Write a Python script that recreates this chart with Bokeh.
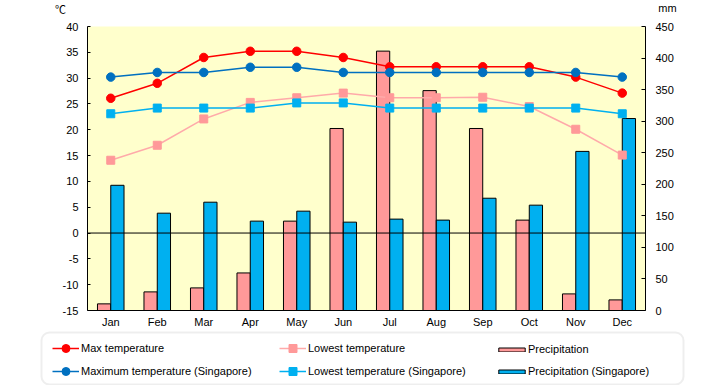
from bokeh.plotting import figure
from bokeh.layouts import column
from bokeh.models import (FactorRange, Range1d, LinearAxis, FixedTicker, Span,
                          Legend, LegendItem, Label, BoxAnnotation)
from bokeh.transform import dodge
from bokeh.embed import file_html
from bokeh.resources import INLINE

months = ["Jan", "Feb", "Mar", "Apr", "May", "Jun", "Jul", "Aug", "Sep", "Oct", "Nov", "Dec"]
max_temp = [26.1, 29.0, 34.0, 35.2, 35.2, 34.0, 32.2, 32.2, 32.2, 32.2, 30.2, 27.1]
low_temp = [14.1, 17.0, 22.1, 25.3, 26.2, 27.1, 26.2, 26.2, 26.3, 24.5, 20.1, 15.1]
precip = [10.5, 29.5, 35.8, 59.5, 141.6, 288.4, 411.0, 348.4, 288.4, 143.2, 26.3, 16.8]
sg_max_temp = [30.2, 31.1, 31.1, 32.1, 32.1, 31.1, 31.1, 31.1, 31.1, 31.1, 31.1, 30.2]
sg_low_temp = [23.1, 24.2, 24.2, 24.2, 25.2, 25.2, 24.2, 24.2, 24.2, 24.2, 24.2, 23.1]
sg_precip = [198.4, 154.2, 171.6, 141.6, 157.4, 140.0, 144.8, 143.2, 177.9, 166.9, 252.1, 304.2]

temp_ticks = [-15, -10, -5, 0, 5, 10, 15, 20, 25, 30, 35, 40]
mm_ticks = [0, 50, 100, 150, 200, 250, 300, 350, 400, 450]

FONT = "Liberation Sans"
FS = "11px"

C_MAX = "#FF0000"
C_LOW = "#FF9999"
C_LOW_LINE = "#FFAAAA"
C_SGMAX = "#0070C0"
C_SGLOW = "#00B0F0"

data = dict(month=months, max_temp=max_temp, low_temp=low_temp, precip=precip,
            sg_max_temp=sg_max_temp, sg_low_temp=sg_low_temp, sg_precip=sg_precip)


def no_align(fig):
    try:
        fig.frame_align = False
    except Exception:
        pass


# ---------- top strip with unit labels ----------
top = figure(width=720, height=18, x_range=Range1d(0, 720), y_range=Range1d(0, 18),
             x_axis_type=None, y_axis_type=None, toolbar_location=None, tools="",
             output_backend="svg", min_border=0, outline_line_color=None,
             background_fill_color="white", border_fill_color="white")
no_align(top)
top.add_layout(Label(x=60, y=10, x_units="screen", y_units="screen", text="℃",
                     text_align="center", text_baseline="middle", text_font="Noto Sans CJK JP",
                     text_font_size="11px", text_color="black"))
top.add_layout(Label(x=667, y=11, x_units="screen", y_units="screen", text="mm",
                     text_align="center", text_baseline="middle", text_font=FONT,
                     text_font_size=FS, text_color="black"))

# ---------- main chart ----------
p = figure(width=720, height=312, x_range=FactorRange(factors=months, range_padding=0),
           y_range=Range1d(-15, 40), output_backend="svg", toolbar_location=None, tools="",
           min_border_left=87, min_border_right=75, min_border_top=8, min_border_bottom=19,
           background_fill_color="#FFFFCC", border_fill_color="white", outline_line_color=None)
no_align(p)
p.extra_y_ranges = {"mm": Range1d(0, 450)}
p.xgrid.visible = False
p.ygrid.visible = False

yax = p.yaxis[0]
yax.ticker = FixedTicker(ticks=temp_ticks)
yax.major_label_overrides = {t: str(t) for t in temp_ticks}
yax.major_tick_in = 3
yax.major_tick_out = 0
yax.minor_tick_line_color = None
yax.major_label_standoff = 9
xax = p.xaxis[0]
xax.major_tick_in = 0
xax.major_tick_out = 0
xax.major_label_standoff = 5
rax = LinearAxis(y_range_name="mm", ticker=FixedTicker(ticks=mm_ticks))
rax.major_tick_in = 4
rax.major_tick_out = 0
rax.minor_tick_line_color = None
rax.major_label_standoff = 10
p.add_layout(rax, "right")
for ax in (yax, xax, rax):
    ax.axis_line_color = "black"
    ax.major_tick_line_color = "black"
    ax.major_label_text_font = FONT
    ax.major_label_text_font_size = FS
    ax.major_label_text_color = "black"

p.vbar(x=dodge("month", -0.143, range=p.x_range), top="precip", bottom=0, width=0.285,
       source=data, y_range_name="mm", fill_color=C_LOW, line_color="black", line_width=1)
p.vbar(x=dodge("month", 0.143, range=p.x_range), top="sg_precip", bottom=0, width=0.285,
       source=data, y_range_name="mm", fill_color=C_SGLOW, line_color="black", line_width=1)

p.add_layout(Span(location=0, dimension="width", line_color="black", line_width=1))

series = [("max_temp", C_MAX, C_MAX, "circle", 8.5),
          ("low_temp", C_LOW_LINE, C_LOW, "square", 8),
          ("sg_max_temp", C_SGMAX, C_SGMAX, "circle", 8.5),
          ("sg_low_temp", C_SGLOW, C_SGLOW, "square", 8)]
for col, lc, mc, mk, sz in series:
    p.line("month", col, source=data, line_color=lc, line_width=1.5)
    p.scatter("month", col, source=data, marker=mk, size=sz, fill_color=mc, line_color=mc)

# ---------- legend strip ----------
leg = figure(width=720, height=55, x_range=Range1d(0, 720), y_range=Range1d(0, 55),
             x_axis_type=None, y_axis_type=None, toolbar_location=None, tools="",
             output_backend="svg", min_border=0, outline_line_color=None,
             background_fill_color="white", border_fill_color="white")
no_align(leg)
idx = list(range(len(months)))
lr = {}
for col, lc, mc, mk, sz in series:
    ln = leg.line(idx, data[col], line_color=lc, line_width=1.5, visible=False)
    sc = leg.scatter(idx, data[col], marker=mk, size=sz, fill_color=mc, line_color=mc, visible=False)
    lr[col] = [ln, sc]
bp = leg.vbar(x=idx, top=precip, width=0.5, fill_color=C_LOW, line_color="black", visible=False)
bs = leg.vbar(x=idx, top=sg_precip, width=0.5, fill_color=C_SGLOW, line_color="black", visible=False)

box = BoxAnnotation(left=41, right=683, top=53, bottom=1,
                    left_units="screen", right_units="screen", top_units="screen", bottom_units="screen",
                    fill_color=None, line_color="#C8C8C8", line_width=2)
try:
    box.border_radius = 8
except Exception:
    pass
leg.add_layout(box)


def mk_legend(items, x, y, gw, gh, lh, sp, st=2):
    lg = Legend(items=items, location=(x, y), orientation="vertical",
                glyph_width=gw, glyph_height=gh, label_height=lh, spacing=sp,
                padding=0, margin=0, label_standoff=2, click_policy="none",
                inactive_fill_alpha=0,
                label_text_font=FONT, label_text_font_size=FS, label_text_color="black",
                border_line_color=None, background_fill_color=None, background_fill_alpha=0)
    try:
        lg.label_standoff = st
    except Exception:
        pass
    leg.add_layout(lg, "center")
    return lg


mk_legend([LegendItem(label="Max temperature", renderers=lr["max_temp"]),
           LegendItem(label="Maximum temperature (Singapore)", renderers=lr["sg_max_temp"])],
          52, 4, 27, 20, 20, 3)
mk_legend([LegendItem(label="Lowest temperature", renderers=lr["low_temp"]),
           LegendItem(label="Lowest temperature (Singapore)", renderers=lr["sg_low_temp"])],
          279, 4, 27, 20, 20, 3)
mk_legend([LegendItem(label="Precipitation", renderers=[bp]),
           LegendItem(label="Precipitation (Singapore)", renderers=[bs])],
          495, 8, 33, 5, 5, 10, -2)

layout = column(top, p, leg, spacing=0)
open("out.html", "w").write(file_html(layout, INLINE))
